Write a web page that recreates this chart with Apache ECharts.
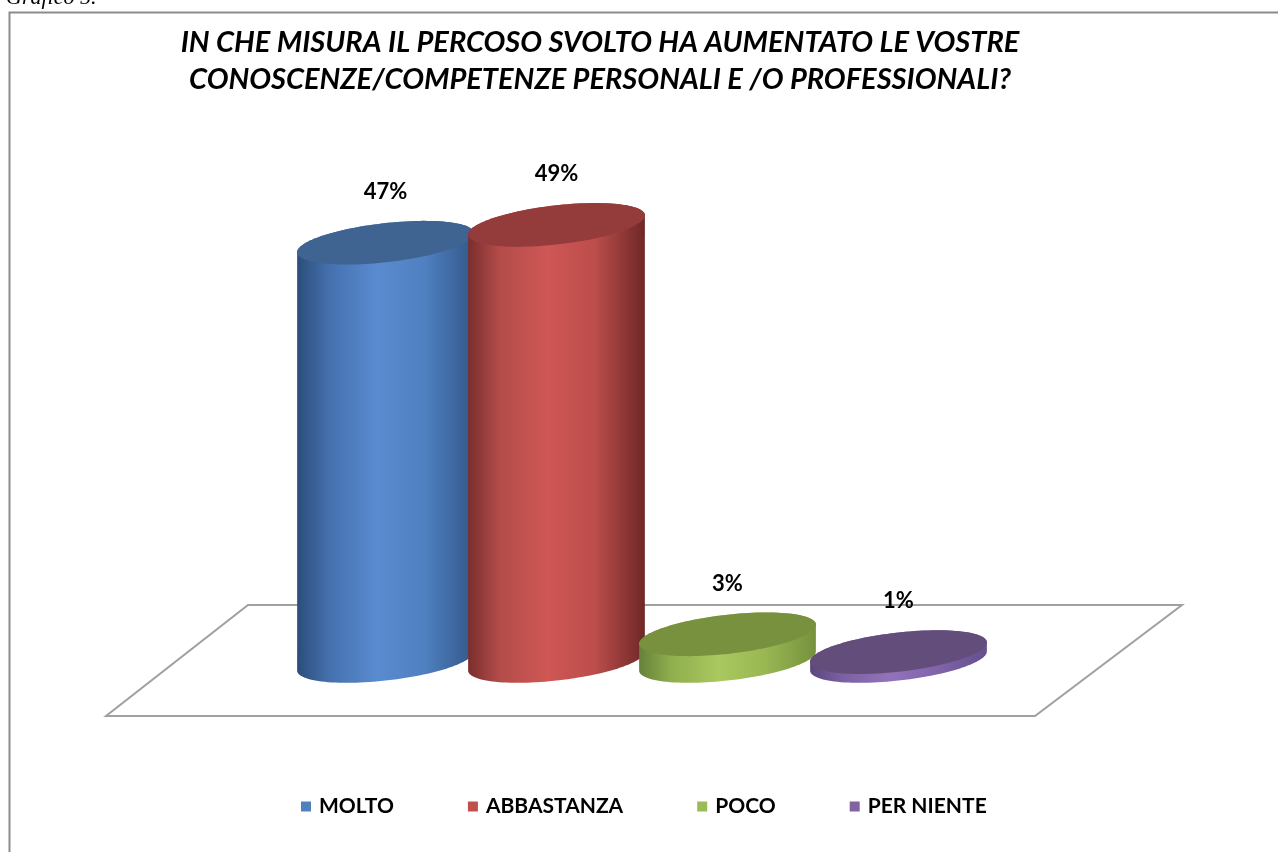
<!DOCTYPE html>
<html>
<head>
<meta charset="utf-8">
<script src="https://cdn.jsdelivr.net/npm/echarts@6/dist/echarts.min.js"></script>
<style>
html,body{margin:0;padding:0;background:#fff;}
#chart{width:1278px;height:852px;}
</style>
</head>
<body>
<div id="chart"></div>
<script>
const categories = ['MOLTO', 'ABBASTANZA', 'POCO', 'PER NIENTE'];
const values = [47, 49, 3, 1];
const labels = ['47%', '49%', '3%', '1%'];

const palette = [
  { top: '#3f6491', side: ['#2c4d7a', '#4470ad', '#5a8bd0', '#4f80c0', '#33588a'], legend: '#4f81bd' },
  { top: '#933c3b', side: ['#7a2e2d', '#b34c4a', '#cf5755', '#bb4d4b', '#6e2827'], legend: '#c0504d' },
  { top: '#78913f', side: ['#66813a', '#8fae4e', '#a9c85f', '#98b752', '#76913d'], legend: '#9bbb59' },
  { top: '#624d7b', side: ['#5a467c', '#7a60a2', '#9273bb', '#8163aa', '#65508c'], legend: '#8064a2' }
];

const PHI = -6.5 * Math.PI / 180;
function ellipsePt(cx, cy, a, b, t) {
  const c = Math.cos(t), s = Math.sin(t);
  return [cx + a * c * Math.cos(PHI) - b * s * Math.sin(PHI),
          cy + a * c * Math.sin(PHI) + b * s * Math.cos(PHI)];
}
function arc(cx, cy, a, b, t0, t1, n) {
  const pts = [];
  for (let i = 0; i <= n; i++) pts.push(ellipsePt(cx, cy, a, b, t0 + (t1 - t0) * i / n));
  return pts;
}

function makeRender(idx) {
  return function (params, api) {
    const xi = api.value(0), v = api.value(1);
    const topC = api.coord([xi, v]);
    const baseC = api.coord([xi, 0]);
    const bw = api.size([1, 0])[0];
    const a = bw * 0.52, b = 19.5;
    const col = palette[idx];
    const body = arc(topC[0], topC[1], a, b, Math.PI, 2 * Math.PI, 60)
      .concat(arc(baseC[0], baseC[1], a, b, 0, Math.PI, 60));
    const topE = arc(topC[0], topC[1], a, b, 0, 2 * Math.PI, 120);
    const stops = [0, 0.18, 0.45, 0.72, 1].map((o, k) => ({ offset: o, color: col.side[k] }));
    const topMost = topC[1] - Math.sqrt(a * a * Math.sin(PHI) ** 2 + b * b * Math.cos(PHI) ** 2);
    return {
      type: 'group',
      children: [
        { type: 'polygon', shape: { points: body },
          style: { fill: { type: 'linear', x: 0, y: 0, x2: 1, y2: 0, colorStops: stops } } },
        { type: 'polygon', shape: { points: topE }, style: { fill: col.top } },
        { type: 'text', x: topC[0], y: topMost - 29,
          style: { text: labels[idx], fill: '#000', font: 'bold 22px Lato', align: 'center', verticalAlign: 'middle' } }
      ]
    };
  };
}

const series = categories.map((name, i) => ({
  name: name,
  type: 'custom',
  renderItem: makeRender(i),
  itemStyle: { color: palette[i].legend },
  encode: { x: 0, y: 1 },
  data: [[i, values[i]]],
  z: 3
}));

const chart = echarts.init(document.getElementById('chart'), null, { renderer: 'canvas' });
chart.setOption({
  animation: false,
  backgroundColor: '#ffffff',
  title: {
    text: 'IN CHE MISURA IL PERCOSO SVOLTO HA AUMENTATO LE VOSTRE\nCONOSCENZE/COMPETENZE PERSONALI E /O PROFESSIONALI?',
    left: 595, top: 19, textAlign: 'center',
    textStyle: { fontFamily: 'Lato', fontWeight: 'bold', fontStyle: 'italic', fontSize: 29, lineHeight: 37, color: '#000' }
  },
  legend: {
    data: categories,
    left: 296, top: 791,
    icon: 'rect', itemWidth: 10, itemHeight: 10, itemGap: 74,
    textStyle: { fontFamily: 'Lato', fontWeight: 'bold', fontSize: 21, color: '#000', padding: [0, 0, 0, 3] }
  },
  grid: { left: 300, right: 294, top: 216, bottom: 191 },
  xAxis: { type: 'category', data: categories, show: false },
  yAxis: { type: 'value', min: 0, max: 50, show: false },
  graphic: [
    { type: 'rect', left: 7, top: 10, z: 0,
      shape: { x: 0, y: 0, width: 1300, height: 900 },
      style: { fill: 'none', stroke: '#8c8c8c', lineWidth: 2 } },
    { type: 'text', left: 6, top: -13, z: 1,
      style: { text: 'Grafico 5.', font: 'italic 22px "Liberation Serif"', fill: '#000' } },
    { type: 'polygon', z: 0,
      shape: { points: [[248, 605], [1182, 605], [1035, 716], [106, 716]] },
      style: { fill: '#ffffff', stroke: '#a0a0a0', lineWidth: 2 } }
  ],
  series: series
});
</script>
</body>
</html>
